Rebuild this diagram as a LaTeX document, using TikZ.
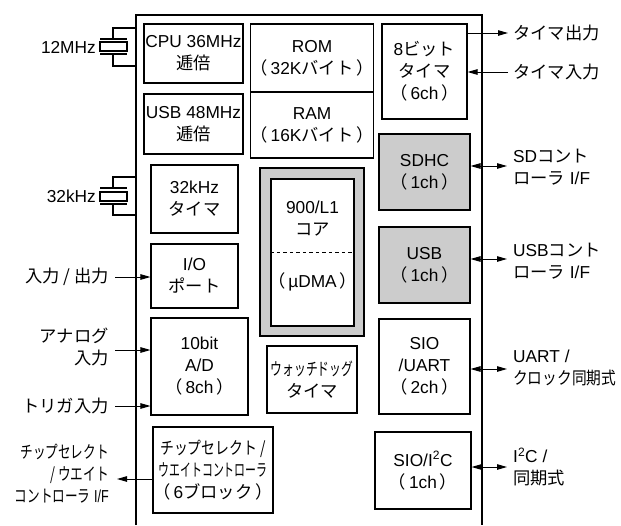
\documentclass[tikz,border=0pt]{standalone}
\usepackage{fontspec}
\usepackage{graphicx}
\setmainfont{Liberation Sans}
\newfontfamily\jp{Noto Sans CJK JP}
\newfontfamily\jpf{Noto Sans CJK JP}
\usetikzlibrary{arrows.meta}
\newcommand{\J}[1]{{\jp #1}}
\newcommand{\Lp}{{\jpf （}\,}
\newcommand{\Rp}{\,{\jpf ）}}
\newcommand{\cnd}[2]{\scalebox{#1}[1]{#2}}
\definecolor{chipgray}{RGB}{204,204,204}
\begin{document}
\begin{tikzpicture}[x=1pt,y=-1pt,
  every node/.style={font=\fontsize{17.3}{22}\selectfont, inner sep=0pt},
  blk/.style={draw, line width=1.1pt, align=center},
  shaded/.style={blk, fill=chipgray},
  lbl/.style={align=right, anchor=east},
  rlbl/.style={align=left, anchor=west},
  arr/.style={line width=1pt, -{Triangle[length=10pt,width=5.5pt]}},
  darr/.style={line width=1pt, {Triangle[length=10pt,width=5.5pt]}-{Triangle[length=10pt,width=5.5pt]}},
  wire/.style={line width=1.1pt}]
\useasboundingbox (0,0) rectangle (621,525);
\fill[white] (0,0) rectangle (621,525);
% chip outline
\draw[line width=1.5pt] (136,525) -- (136,15) -- (482,15) -- (482,525);

% blocks
\node[blk, minimum width=99pt, minimum height=59pt] (cpu) at (193.5,53.5) {CPU 36MHz\\\J{逓倍}};
\node[blk, minimum width=99pt, minimum height=60pt] (usbclk) at (193.5,124) {USB 48MHz\\\J{逓倍}};
\node[blk, minimum width=120pt, minimum height=68pt] (rom) at (312,58) {ROM\\\Lp 32K\J{バイト}\Rp};
\node[blk, minimum width=120pt, minimum height=66pt] (ram) at (312,125) {RAM\\\Lp 16K\J{バイト}\Rp};
\node[blk, minimum width=85pt, minimum height=95pt] (tmr) at (424.5,71.5) {8\J{ビット}\\\J{タイマ}\\\Lp 6ch\Rp};
\node[shaded, minimum width=91pt, minimum height=76pt] (sdhc) at (424.5,172) {SDHC\\\Lp 1ch\Rp};
\node[shaded, minimum width=91pt, minimum height=76pt] (usb) at (424.5,265) {USB\\\Lp 1ch\Rp};
\node[blk, minimum width=91pt, minimum height=95pt] (uart) at (424.5,366.5) {SIO\\/UART\\\Lp 2ch\Rp};
\node[blk, minimum width=96pt, minimum height=77pt] (iic) at (423,470.5) {SIO/I\textsuperscript{2}C\\\Lp 1ch\Rp};
\node[blk, minimum width=87pt, minimum height=68pt] (rtc) at (194.5,199) {32kHz\\\J{タイマ}};
\node[blk, minimum width=87pt, minimum height=64pt] (io) at (194.5,276) {I/O\\\J{ポート}};
\node[blk, minimum width=97pt, minimum height=97pt] (adc) at (199.5,366.5) {10bit\\A/D\\\Lp 8ch\Rp};
\node[blk, minimum width=120pt, minimum height=86pt] (cs) at (213,470) {\cnd{0.8}{\J{チップセレクト /}}\\\cnd{0.63}{\J{ウエイトコントローラ}}\\\Lp 6\J{ブロック}\Rp};
\node[blk, minimum width=90pt, minimum height=67pt] (wdt) at (312,379.5) {\cnd{0.68}{\J{ウォッチドッグ}}\\\J{タイマ}};
% core
\node[shaded, minimum width=104pt, minimum height=168pt] (coreo) at (312,252) {};
\node[blk, fill=white, minimum width=83pt, minimum height=147pt] (corei) at (312.5,252.5) {};
\draw[line width=0.9pt, dash pattern=on 3.5pt off 3pt] (corei.west) -- (corei.east);
\node[align=center] (coretxt) at (312.5,219) {900/L1\\\J{コア}};
\node (dma) at (312.5,282) {\Lp µDMA\Rp};

% crystals
\draw[wire] (136,28) -- (113,28) -- (113,39);
\draw[wire] (100,39) -- (127,39);
\draw[wire] (100,42) rectangle (127,51);
\draw[wire] (100,54) -- (127,54);
\draw[wire] (113,54) -- (113,66) -- (136,66);
\node[lbl] (x12) at (96,47) {12MHz};
\draw[wire] (136,177) -- (113,177) -- (113,188);
\draw[wire] (100,188) -- (127,188);
\draw[wire] (100,192) rectangle (127,201);
\draw[wire] (100,204) -- (127,204);
\draw[wire] (113,204) -- (113,215) -- (136,215);
\node[lbl] (x32) at (96,196) {32kHz};

% left labels and arrows
\node[lbl] (pio) at (109,277) {\J{入力 / 出力}};
\draw[arr] ([xshift=6pt]pio.east) -- (pio.east -| io.west);
\node[lbl] (ana) at (109,347) {\J{アナログ}\\\J{入力}};
\draw[arr] ([xshift=6pt,yshift=-3pt]ana.east) -- ([yshift=-3pt]ana.east -| adc.west);
\node[lbl] (trg) at (109,406) {\J{トリガ入力}};
\draw[arr] ([xshift=6pt]trg.east) -- (trg.east -| adc.west);
\node[lbl] (csl) at (109,474) {\cnd{0.73}{\J{チップセレクト}}\\\cnd{0.73}{\J{/ ウエイト}}\\\cnd{0.73}{\J{コントローラ} I/F}};
\draw[arr] ([yshift=-5pt]csl.east -| cs.west) -- ([xshift=8pt,yshift=-5pt]csl.east);

% right labels and arrows
\node[rlbl] (tout) at (513,33) {\J{タイマ出力}};
\draw[arr] (tout.west -| tmr.east) -- ([xshift=-5pt]tout.west);
\node[rlbl] (tin) at (513,72) {\J{タイマ入力}};
\draw[arr] ([xshift=-5pt]tin.west) -- (tin.west -| tmr.east);
\node[rlbl] (sdl) at (513,167) {SD\J{コント}\\\J{ローラ} I/F};
\draw[darr] ([yshift=1pt]sdl.west -| sdhc.east) -- ([xshift=-6pt,yshift=1pt]sdl.west);
\node[rlbl] (usbl) at (513,261) {USB\J{コント}\\\J{ローラ} I/F};
\draw[darr] ([yshift=2pt]usbl.west -| usb.east) -- ([xshift=-6pt,yshift=2pt]usbl.west);
\node[rlbl] (uartl) at (513,368) {UART /\\\cnd{0.85}{\J{クロック同期式}}};
\draw[darr] ([yshift=-1pt]uartl.west -| uart.east) -- ([xshift=-6pt,yshift=-1pt]uartl.west);
\node[rlbl] (iicl) at (513,467) {I\textsuperscript{2}C /\\\J{同期式}};
\draw[darr] (iicl.west -| iic.east) -- ([xshift=-6pt]iicl.west);
\end{tikzpicture}
\end{document}
